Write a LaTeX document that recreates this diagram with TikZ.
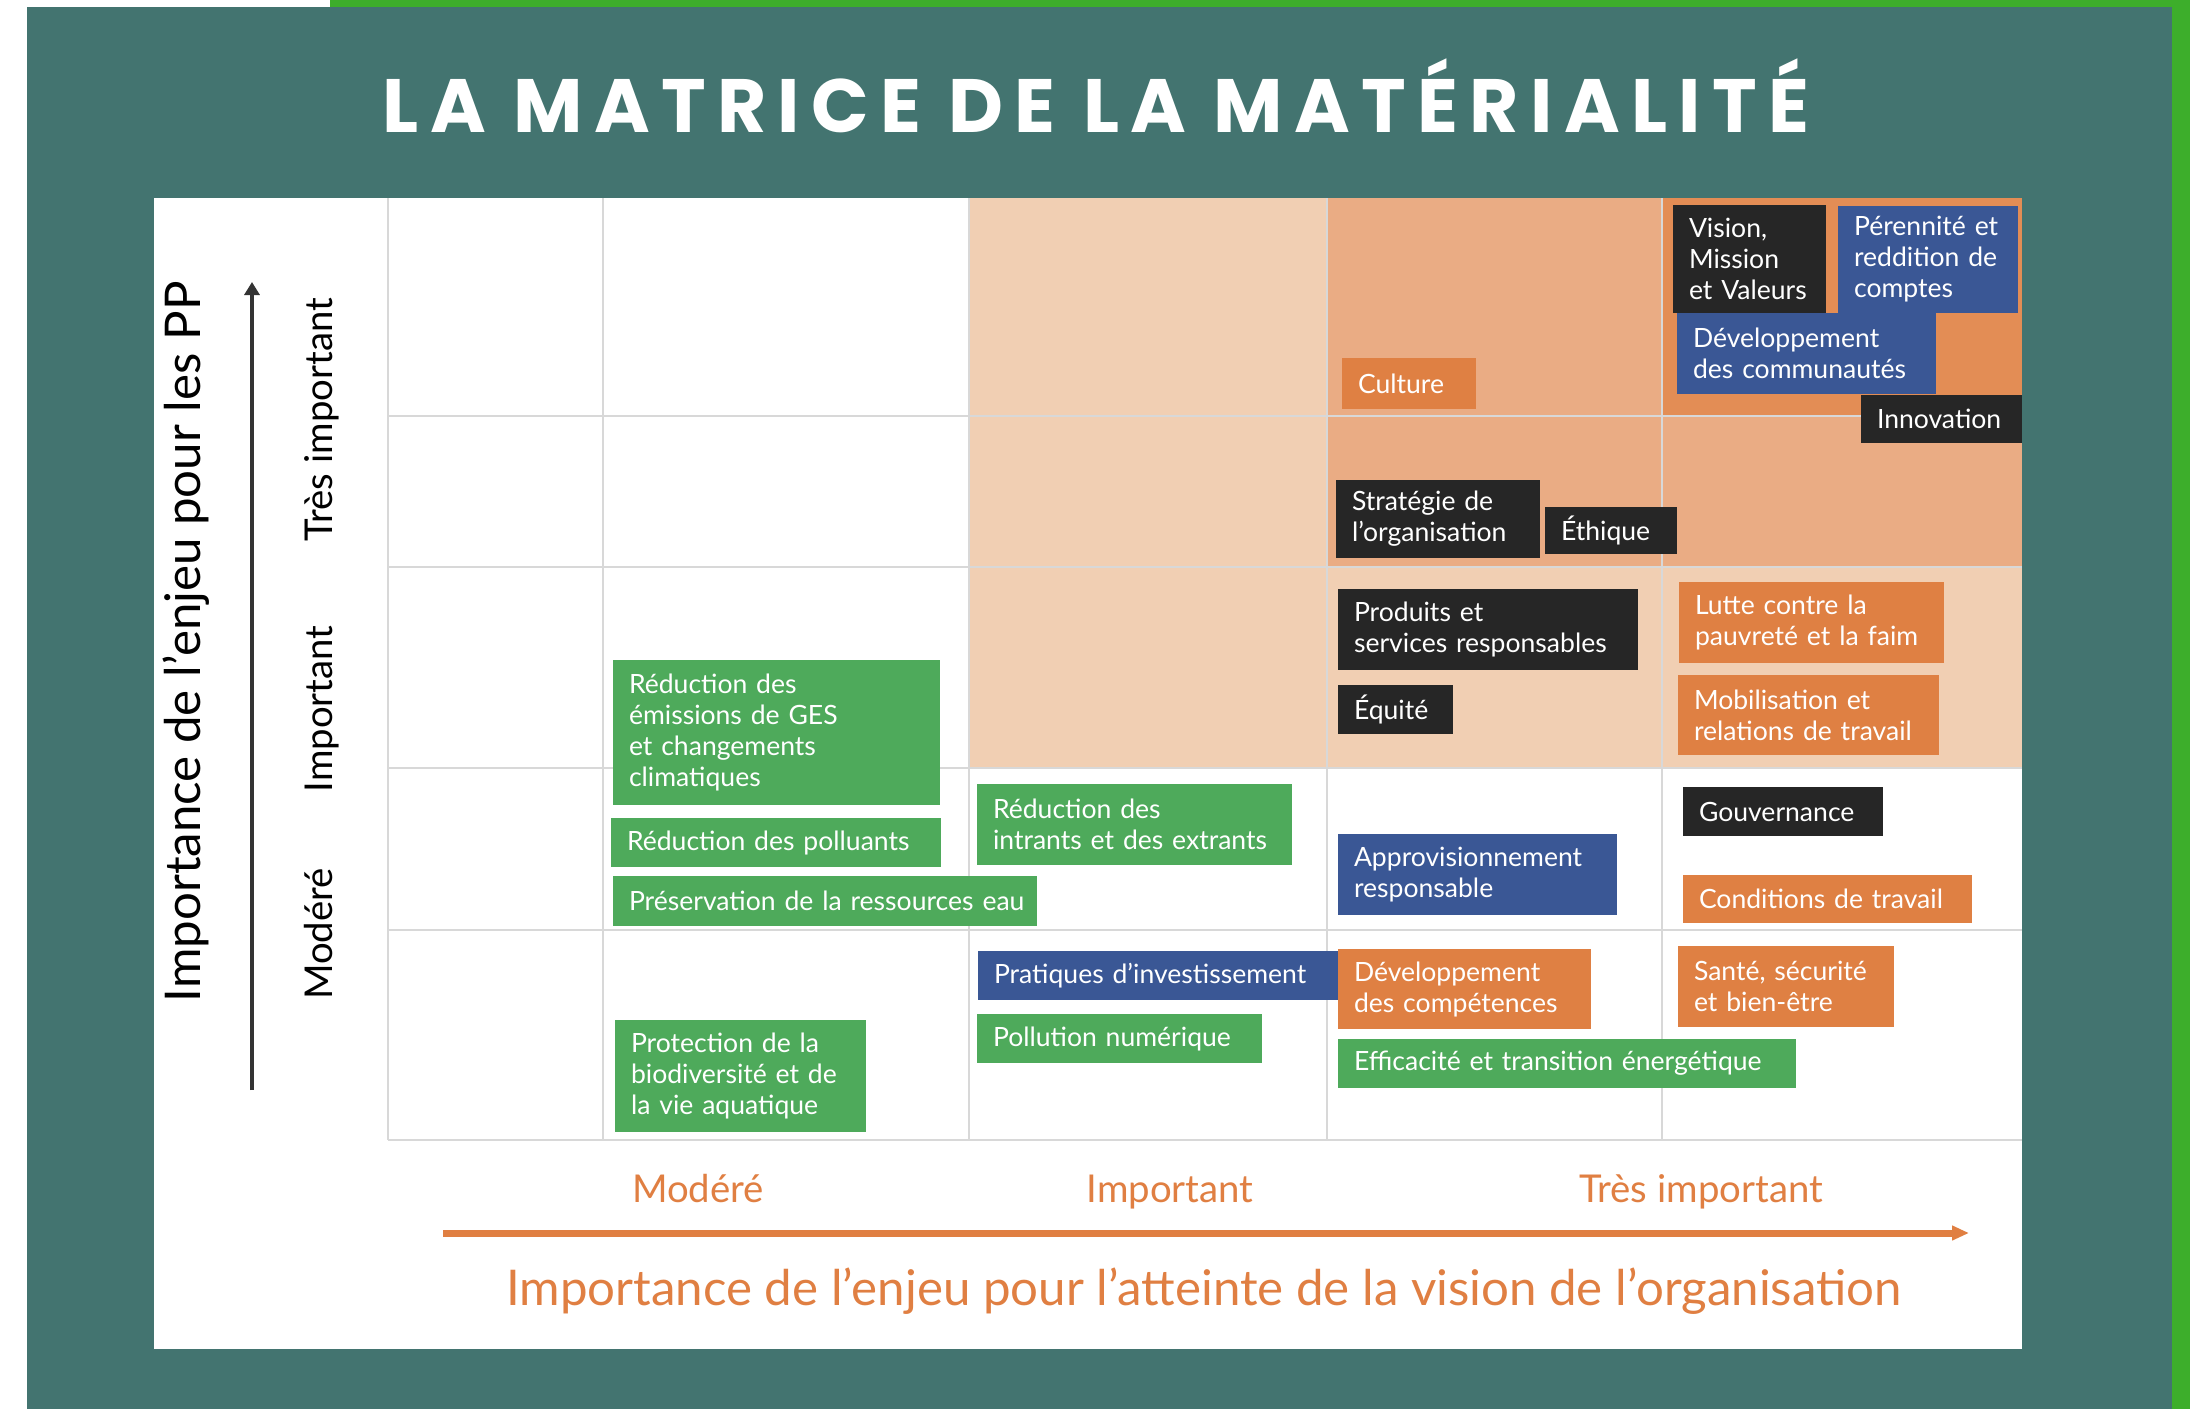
\documentclass[tikz,border=0pt]{standalone}
\usepackage{fontspec}
\setmainfont{Lato}
\newfontfamily\titlefont[LetterSpace=15]{Poppins}
\usetikzlibrary{arrows.meta}
\definecolor{cteal}{HTML}{437470}
\definecolor{ctopgreen}{HTML}{3DAE2B}
\definecolor{cgrid}{HTML}{D8D8D8}
\definecolor{cpeachA}{HTML}{F1CFB3}
\definecolor{cpeachB}{HTML}{EAAC84}
\definecolor{cpeachC}{HTML}{E38D55}
\definecolor{cboxor}{HTML}{DF8043}
\definecolor{cboxgr}{HTML}{4EAA5B}
\definecolor{cboxbl}{HTML}{3A5795}
\definecolor{cboxbk}{HTML}{262626}
\definecolor{clabor}{HTML}{E07F42}
\definecolor{caxis}{HTML}{333333}
\newcommand\bxfont{\fontsize{7.55pt}{8.82pt}\selectfont}
\newcommand\axfont{\fontsize{10.9pt}{12pt}\selectfont}
\newcommand\bigaxfont{\fontsize{14pt}{15pt}\selectfont}
\begin{document}
\begin{tikzpicture}[x=0.01cm,y=-0.01cm,
  bxs/.style={anchor=north west, inner xsep=0.16cm, inner ysep=0pt, align=left,
    text=white, font=\bxfont, outer sep=0pt},
  gridline/.style={draw=cgrid, line width=0.02cm},
  ylab/.style={rotate=90, anchor=base, font=\axfont, text=black, inner sep=0pt},
  xlab/.style={anchor=base, font=\axfont, text=clabor, inner sep=0pt}]
\useasboundingbox (0,0) rectangle (2190,1409);
% background
\fill[white] (0,0) rectangle (2190,1409);
\fill[cteal] (27,7) rectangle (2172,1409);
\fill[ctopgreen] (330,0) rectangle (2190,7);
\fill[ctopgreen] (2172,0) rectangle (2190,1409);
% panel
\fill[white] (154,198) rectangle (2022,1349);
% shaded cells
\fill[cpeachA] (969,198) rectangle (2022,768);
\fill[cpeachB] (1327,198) rectangle (2022,567);
\fill[cpeachC] (1662,198) rectangle (2022,416);
% grid
\foreach \gx in {388,603,969,1327,1662} \draw[gridline] (\gx,198) -- (\gx,1140);
\foreach \gy in {416,567,768,930,1140} \draw[gridline] (388,\gy) -- (2022,\gy);
% title
\node[anchor=base, text=white, inner sep=0pt, font=\titlefont\bfseries\fontsize{21.5pt}{24pt}\selectfont] (title) at (1096,133) {LA MATRICE DE LA MATÉRIALITÉ};
% boxes
\node[bxs, fill=cboxbk, minimum width=1.53cm, minimum height=1.08cm, text width=1.21cm] (vision) at (1673,205) {Vision,\\Mission\\et Valeurs};
\node[bxs, fill=cboxbl, minimum width=1.80cm, minimum height=1.07cm, text width=1.48cm] (perennite) at (1838,206) {Pérennité et\\reddition de\\comptes};
\node[bxs, fill=cboxbl, minimum width=2.59cm, minimum height=0.81cm, text width=2.27cm] (devcom) at (1677,313) {Développement\\des communautés};
\node[bxs, fill=cboxor, minimum width=1.34cm, minimum height=0.51cm, text width=1.02cm] (culture) at (1342,358) {Culture};
\node[bxs, fill=cboxbk, minimum width=1.61cm, minimum height=0.48cm, text width=1.29cm] (innovation) at (1861,395) {Innovation};
\node[bxs, fill=cboxbk, minimum width=2.04cm, minimum height=0.78cm, text width=1.72cm] (strategie) at (1336,480) {Stratégie de\\l’organisation};
\node[bxs, fill=cboxbk, minimum width=1.32cm, minimum height=0.47cm, text width=1.00cm] (ethique) at (1545,507) {Éthique};
\node[bxs, fill=cboxbk, minimum width=3.00cm, minimum height=0.81cm, text width=2.68cm] (produits) at (1338,589) {Produits et\\services responsables};
\node[bxs, fill=cboxbk, minimum width=1.15cm, minimum height=0.49cm, text width=0.83cm] (equite) at (1338,685) {Équité};
\node[bxs, fill=cboxor, minimum width=2.65cm, minimum height=0.81cm, text width=2.33cm] (lutte) at (1679,582) {Lutte contre la\\pauvreté et la faim};
\node[bxs, fill=cboxor, minimum width=2.61cm, minimum height=0.80cm, text width=2.29cm] (mobilisation) at (1678,675) {Mobilisation et\\relations de travail};
\node[bxs, fill=cboxbk, minimum width=2.00cm, minimum height=0.49cm, text width=1.68cm] (gouvernance) at (1683,787) {Gouvernance};
\node[bxs, fill=cboxbl, minimum width=2.79cm, minimum height=0.81cm, text width=2.47cm] (approv) at (1338,834) {Approvisionnement\\responsable};
\node[bxs, fill=cboxor, minimum width=2.89cm, minimum height=0.48cm, text width=2.57cm] (conditions) at (1683,875) {Conditions de travail};
\node[bxs, fill=cboxbl, minimum width=3.61cm, minimum height=0.49cm, text width=3.29cm] (pratiques) at (978,951) {Pratiques d’investissement};
\node[bxs, fill=cboxor, minimum width=2.53cm, minimum height=0.80cm, text width=2.21cm] (devcomp) at (1338,949) {Développement\\des compétences};
\node[bxs, fill=cboxor, minimum width=2.16cm, minimum height=0.81cm, text width=1.84cm] (sante) at (1678,946) {Santé, sécurité\\et bien-être};
\node[bxs, fill=cboxgr, minimum width=4.58cm, minimum height=0.49cm, text width=4.26cm] (efficacite) at (1338,1039) {Efficacité et transition énergétique};
\node[bxs, fill=cboxgr, minimum width=3.27cm, minimum height=1.45cm, text width=2.95cm] (ges) at (613,660) {Réduction des\\émissions de GES\\et changements\\climatiques};
\node[bxs, fill=cboxgr, minimum width=3.30cm, minimum height=0.49cm, text width=2.98cm] (polluants) at (611,818) {Réduction des polluants};
\node[bxs, fill=cboxgr, minimum width=4.24cm, minimum height=0.50cm, text width=3.92cm] (eau) at (613,876) {\mbox{Préservation de la ressources eau}};
\node[bxs, fill=cboxgr, minimum width=3.15cm, minimum height=0.81cm, text width=2.83cm] (intrants) at (977,784) {Réduction des\\intrants et des extrants};
\node[bxs, fill=cboxgr, minimum width=2.85cm, minimum height=0.49cm, text width=2.53cm] (pollution) at (977,1014) {Pollution numérique};
\node[bxs, fill=cboxgr, minimum width=2.51cm, minimum height=1.12cm, text width=2.19cm] (protection) at (615,1020) {Protection de la\\biodiversité et de\\la vie aquatique};
% vertical axis
\node[rotate=90, anchor=base, font=\bigaxfont, text=black, inner sep=0pt] (ytitle) at (200,642) {Importance de l’enjeu pour les PP};
\coordinate (ya0) at (252,1090);
\coordinate (ya1) at (252,282);
\draw[caxis, line width=0.04cm, -{Triangle[length=0.13cm, width=0.15cm]}] (ya0) -- (ya1);
\node[ylab] (yl3) at (332,420) {Très important};
\node[ylab] (yl2) at (332,709) {Important};
\node[ylab] (yl1) at (332,934) {Modéré};
% horizontal axis
\node[xlab] (xl1) at (698,1202) {Modéré};
\node[xlab] (xl2) at (1170,1202) {Important};
\node[xlab] (xl3) at (1701,1202) {Très important};
\coordinate (xa0) at (443,1233);
\coordinate (xa1) at (1969,1233);
\draw[clabor, line width=0.07cm, -{Triangle[length=0.17cm, width=0.14cm]}] (xa0) -- (xa1);
\node[anchor=base, font=\bigaxfont, text=clabor, inner sep=0pt] (xtitle) at (1204,1305) {Importance de l’enjeu pour l’atteinte de la vision de l’organisation};
\end{tikzpicture}
\end{document}
